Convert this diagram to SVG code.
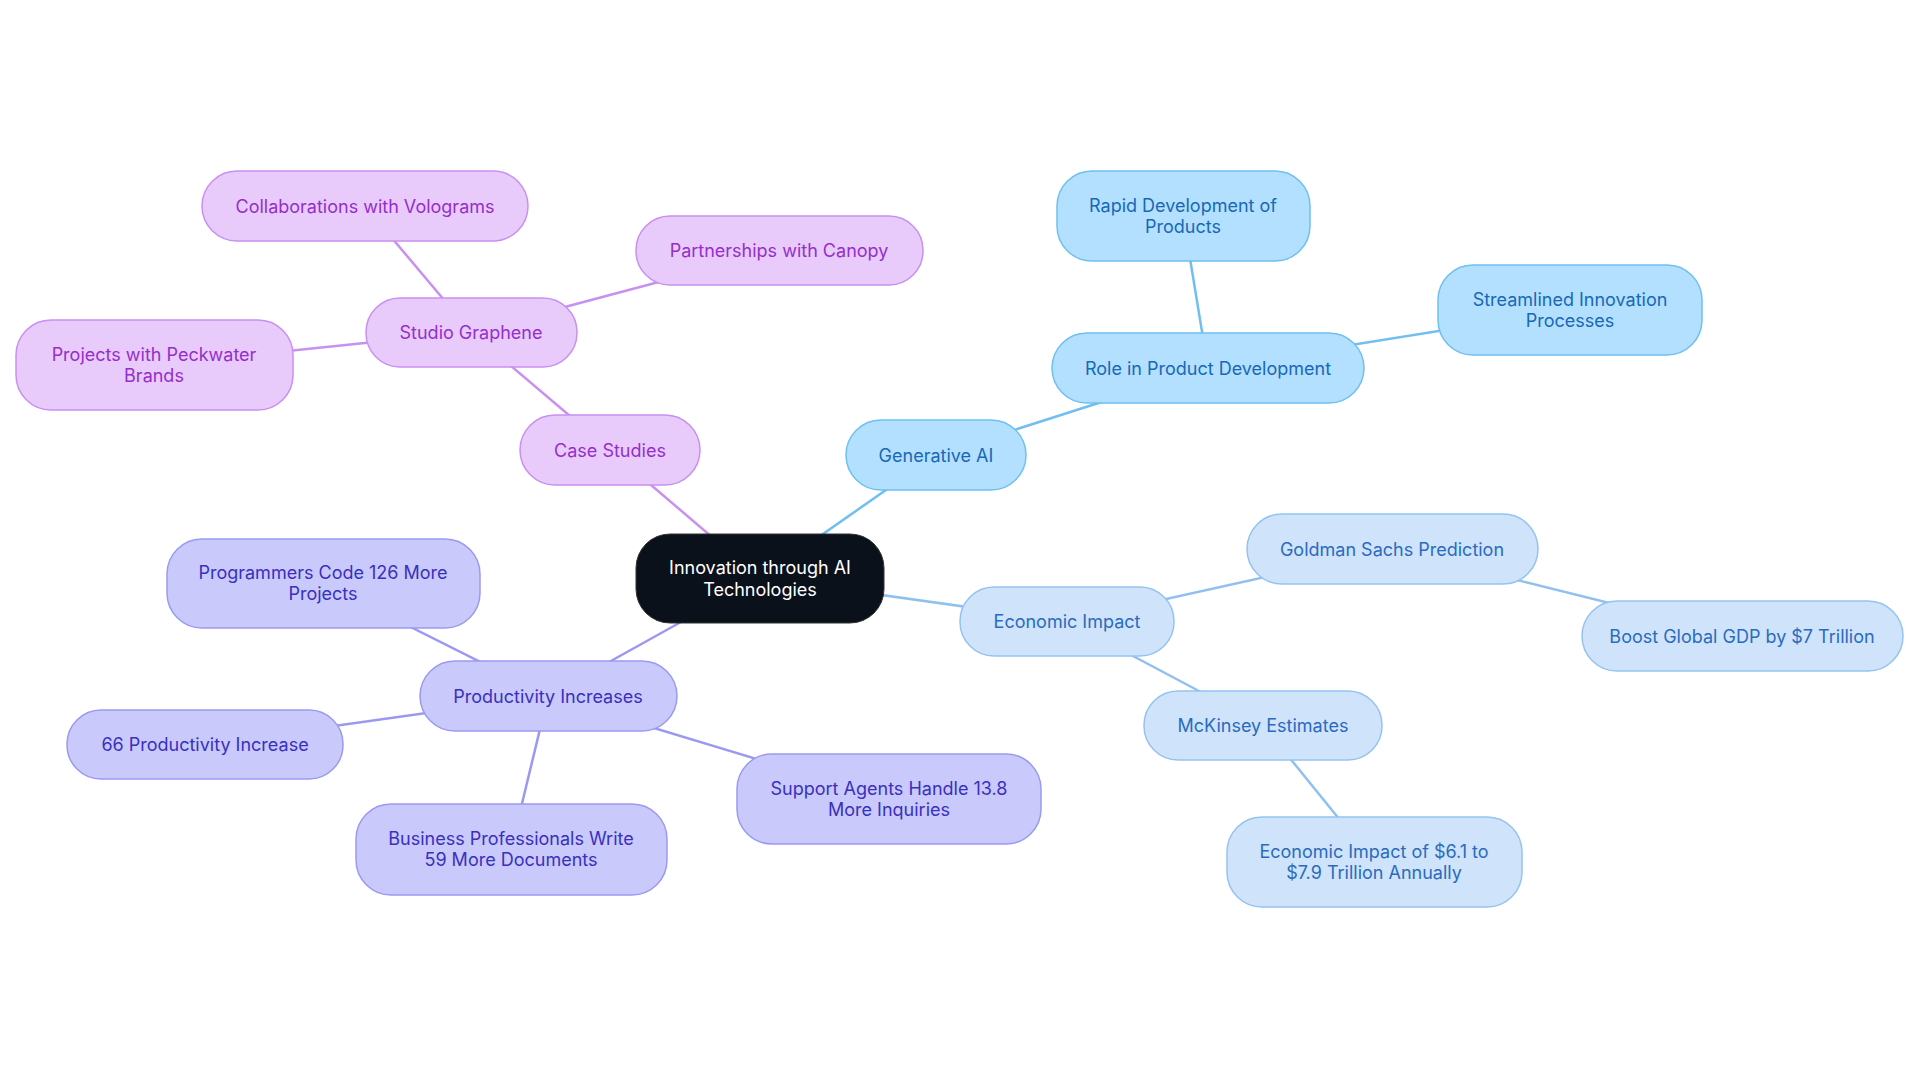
<svg xmlns="http://www.w3.org/2000/svg" width="1920" height="1083" viewBox="0 0 1920 1083">
<style>
text{font-family:Inter,"Noto Sans",sans-serif;font-size:18px;text-anchor:middle;dominant-baseline:central}
.b rect{fill:#b3e0fe;stroke:#6ec0f0;stroke-width:1.5}.b text{fill:#1868b8}
.e rect{fill:#cfe4fa;stroke:#94c3f0;stroke-width:1.5}.e text{fill:#2a6bc0}
.p rect{fill:#e8cafb;stroke:#c890f0;stroke-width:1.5}.p text{fill:#962ecc}
.i rect{fill:#c9c9fb;stroke:#9a9af0;stroke-width:1.5}.i text{fill:#3a30bf}
#edges line{stroke-width:2.5}
.lb{stroke:#70bff0}.le{stroke:#90c0f0}.lp{stroke:#c890f0}.li{stroke:#9a98f0}
</style>
<rect width="1920" height="1083" fill="#fff"/>
<g id="edges">
<line class="lb" x1="760" y1="578" x2="936" y2="455"/>
<line class="lb" x1="936" y1="455" x2="1208" y2="368"/>
<line class="lb" x1="1208" y1="368" x2="1183" y2="216"/>
<line class="lb" x1="1208" y1="368" x2="1570" y2="310"/>
<line class="le" x1="760" y1="578" x2="1067" y2="621"/>
<line class="le" x1="1067" y1="621" x2="1392" y2="549"/>
<line class="le" x1="1392" y1="549" x2="1742" y2="636"/>
<line class="le" x1="1067" y1="621" x2="1263" y2="725"/>
<line class="le" x1="1263" y1="725" x2="1374" y2="862"/>
<line class="lp" x1="760" y1="578" x2="610" y2="450"/>
<line class="lp" x1="610" y1="450" x2="471" y2="332"/>
<line class="lp" x1="471" y1="332" x2="365" y2="206"/>
<line class="lp" x1="471" y1="332" x2="779" y2="250"/>
<line class="lp" x1="471" y1="332" x2="154" y2="365"/>
<line class="li" x1="760" y1="578" x2="548" y2="696"/>
<line class="li" x1="548" y1="696" x2="323" y2="583"/>
<line class="li" x1="548" y1="696" x2="205" y2="744"/>
<line class="li" x1="548" y1="696" x2="511" y2="849"/>
<line class="li" x1="548" y1="696" x2="889" y2="799"/>
</g>
<g id="center"><rect x="636" y="534" width="248" height="89" rx="34" fill="#0b111a" stroke="#333" stroke-width="1"/><text x="760" y="567" fill="#fff">Innovation through AI</text><text x="760" y="589" fill="#fff">Technologies</text></g>
<g id="gen" class="b"><rect x="846" y="420" width="180" height="70" rx="35"/><text x="936" y="455">Generative AI</text></g>
<g id="role" class="b"><rect x="1052" y="333" width="312" height="70" rx="35"/><text x="1208" y="368">Role in Product Development</text></g>
<g id="rapid" class="b"><rect x="1057" y="171" width="253" height="90" rx="35"/><text x="1183" y="205">Rapid Development of</text><text x="1183" y="226">Products</text></g>
<g id="stream" class="b"><rect x="1438" y="265" width="264" height="90" rx="35"/><text x="1570" y="299">Streamlined Innovation</text><text x="1570" y="320">Processes</text></g>
<g id="econ" class="e"><rect x="960" y="587" width="214" height="69" rx="34"/><text x="1067" y="621">Economic Impact</text></g>
<g id="gold" class="e"><rect x="1247" y="514" width="291" height="70" rx="35"/><text x="1392" y="549">Goldman Sachs Prediction</text></g>
<g id="gdp" class="e"><rect x="1582" y="601" width="321" height="70" rx="35"/><text x="1742" y="636">Boost Global GDP by $7 Trillion</text></g>
<g id="mck" class="e"><rect x="1144" y="691" width="238" height="69" rx="34"/><text x="1263" y="725">McKinsey Estimates</text></g>
<g id="eimp" class="e"><rect x="1227" y="817" width="295" height="90" rx="35"/><text x="1374" y="851">Economic Impact of $6.1 to</text><text x="1374" y="872">$7.9 Trillion Annually</text></g>
<g id="case" class="p"><rect x="520" y="415" width="180" height="70" rx="35"/><text x="610" y="450">Case Studies</text></g>
<g id="studio" class="p"><rect x="366" y="298" width="211" height="69" rx="34"/><text x="471" y="332">Studio Graphene</text></g>
<g id="volo" class="p"><rect x="202" y="171" width="326" height="70" rx="35"/><text x="365" y="206">Collaborations with Volograms</text></g>
<g id="canopy" class="p"><rect x="636" y="216" width="287" height="69" rx="34"/><text x="779" y="250">Partnerships with Canopy</text></g>
<g id="peck" class="p"><rect x="16" y="320" width="277" height="90" rx="35"/><text x="154" y="354">Projects with Peckwater</text><text x="154" y="375">Brands</text></g>
<g id="prod" class="i"><rect x="420" y="661" width="257" height="70" rx="35"/><text x="548" y="696">Productivity Increases</text></g>
<g id="prog" class="i"><rect x="167" y="539" width="313" height="89" rx="35"/><text x="323" y="572">Programmers Code 126 More</text><text x="323" y="593">Projects</text></g>
<g id="p66" class="i"><rect x="67" y="710" width="276" height="69" rx="34"/><text x="205" y="744">66 Productivity Increase</text></g>
<g id="bus" class="i"><rect x="356" y="804" width="311" height="91" rx="35"/><text x="511" y="838">Business Professionals Write</text><text x="511" y="859">59 More Documents</text></g>
<g id="sup" class="i"><rect x="737" y="754" width="304" height="90" rx="35"/><text x="889" y="788">Support Agents Handle 13.8</text><text x="889" y="809">More Inquiries</text></g>
</svg>
